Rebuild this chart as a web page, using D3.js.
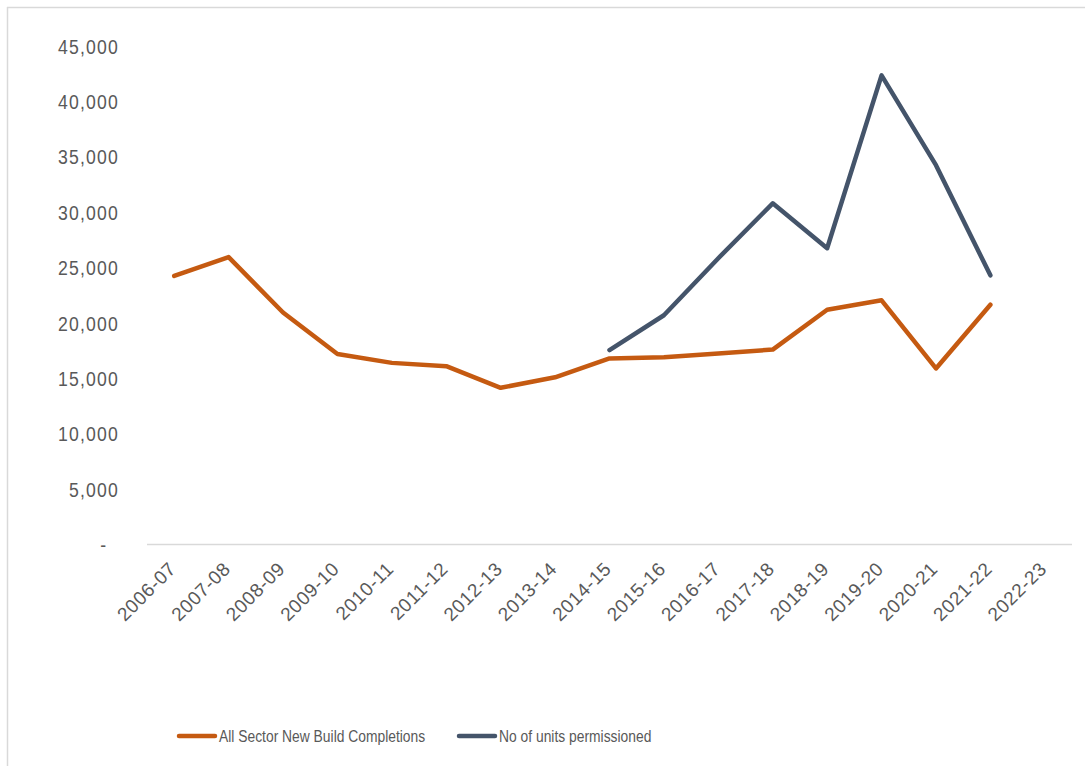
<!DOCTYPE html>
<html>
<head>
<meta charset="utf-8">
<script src="https://cdn.jsdelivr.net/npm/d3@7"></script>
<style>
  html, body { margin: 0; padding: 0; background: #fff; }
  svg { display: block; }
  text { font-family: "Liberation Sans", Arial, sans-serif; fill: #595959; }
</style>
</head>
<body>
<svg id="chart" width="1085" height="766"></svg>
<script>
// Financial years shown on the category axis
const years = ["2006-07","2007-08","2008-09","2009-10","2010-11","2011-12","2012-13","2013-14",
               "2014-15","2015-16","2016-17","2017-18","2018-19","2019-20","2020-21","2021-22","2022-23"];

// All sector new build completions (null = no figure)
const completions = [24200, 25900, 20900, 17150, 16350, 16050, 14100, 15050,
                     16750, 16850, 17200, 17550, 21150, 22000, 15850, 21600, null];

// Units permissioned, reported from 2014-15 onward
const permissioned = [null, null, null, null, null, null, null, null,
                      17500, 20650, 25800, 30750, 26700, 42300, 34200, 24250, null];

const yTicks = [0, 5000, 10000, 15000, 20000, 25000, 30000, 35000, 40000, 45000];

const seriesNames = ["All Sector New Build Completions", "No of units permissioned"];
const seriesColors = ["#C55A11", "#44546A"];

const svg = d3.select("#chart");
const W = 1085, H = 766;
const plot = { left: 147, right: 1072, top: 45.5, bottom: 544 };
const squeeze = 0.84;   // condensed lettering

// Frame: top and left edges only
svg.append("line").attr("x1", 7).attr("x2", W).attr("y1", 7.5).attr("y2", 7.5)
  .attr("stroke", "#d9d9d9").attr("stroke-width", 1.5);
svg.append("line").attr("x1", 7.5).attr("x2", 7.5).attr("y1", 7).attr("y2", H)
  .attr("stroke", "#d9d9d9").attr("stroke-width", 1.5);

const x = d3.scaleBand().domain(years).range([plot.left, plot.right]);
const y = d3.scaleLinear().domain([0, 45000]).range([plot.bottom, plot.top]);

// Value axis labels
const fmt = d3.format(",");
const yAxis = d3.axisLeft(y).tickValues(yTicks).tickSize(0).tickPadding(0)
  .tickFormat(d => d === 0 ? "-" : fmt(d));
const gy = svg.append("g").attr("transform", "translate(119,0)").call(yAxis);
gy.select(".domain").remove();
gy.selectAll("text")
  .attr("font-size", 21).attr("letter-spacing", 1.4)
  .attr("dy", "0.36em")
  .attr("x", d => d === 0 ? -14 : 0)
  .attr("transform", `scale(${squeeze},1)`)
  .style("fill", "#595959");

// Category axis
const xAxis = d3.axisBottom(x).tickSize(0).tickPadding(0);
const gx = svg.append("g").attr("transform", `translate(0,${plot.bottom})`).call(xAxis);
gx.select(".domain").attr("stroke", "#d9d9d9").attr("stroke-width", 1.5)
  .attr("d", `M${plot.left},0.5H${plot.right}`);
gx.selectAll(".tick text")
  .attr("font-size", 19).attr("letter-spacing", 0.6)
  .attr("text-anchor", "end")
  .attr("dy", 0)
  .attr("transform", "translate(3,26) rotate(-45)")
  .style("fill", "#595959");

// Lines
const line = d3.line()
  .defined(d => d != null)
  .x((d, i) => x(years[i]) + x.bandwidth() / 2)
  .y(d => y(d));

[completions, permissioned].forEach((vals, k) => {
  svg.append("path")
    .datum(vals)
    .attr("fill", "none")
    .attr("stroke", seriesColors[k])
    .attr("stroke-width", 4.5)
    .attr("stroke-linejoin", "round")
    .attr("stroke-linecap", "round")
    .attr("d", line);
});

// Legend
const legendItems = [
  { name: seriesNames[0], color: seriesColors[0], x: 179 },
  { name: seriesNames[1], color: seriesColors[1], x: 459 }
];
const lg = svg.append("g").attr("class", "legend");
legendItems.forEach(it => {
  lg.append("line")
    .attr("x1", it.x).attr("x2", it.x + 36)
    .attr("y1", 736).attr("y2", 736)
    .attr("stroke", it.color).attr("stroke-width", 4.5)
    .attr("stroke-linecap", "round");
  lg.append("g")
    .attr("transform", `translate(${it.x + 40},736) scale(${squeeze},1)`)
    .append("text")
    .attr("dy", "0.36em")
    .attr("font-size", 16.5)
    .text(it.name);
});
</script>
</body>
</html>
